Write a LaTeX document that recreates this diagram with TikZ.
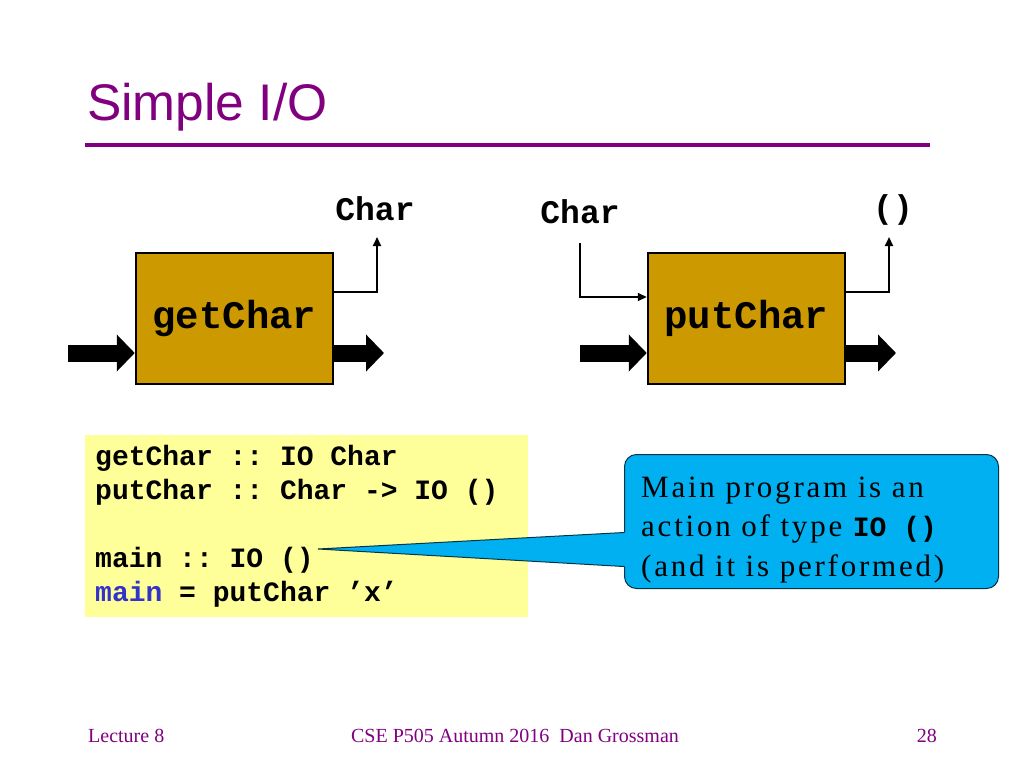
\documentclass[tikz,border=0pt]{standalone}
\usepackage{fontspec}
\setmainfont{Liberation Serif}
\setsansfont{Liberation Sans}
\setmonofont{Liberation Mono}
\newfontfamily\calloutfont{Liberation Serif}[LetterSpace=9, Ligatures=NoCommon]
\usetikzlibrary{arrows.meta, positioning, calc}

\definecolor{slidepurple}{RGB}{128, 0, 128}
\definecolor{boxgold}{RGB}{204, 153, 0}
\definecolor{codeyellow}{RGB}{255, 255, 153}
\definecolor{calloutcyan}{RGB}{0, 176, 240}
\definecolor{kwblue}{RGB}{51, 51, 204}

\DeclareRobustCommand{\codefont}[2]{\fontsize{#1}{#2}\selectfont\ttfamily\bfseries\frenchspacing\spaceskip=0.6em\xspaceskip=0.6em\relax}

\tikzset{
  actionbox/.style={draw=black, line width=2.5pt, fill=boxgold, minimum width=197pt, minimum height=131pt,
    inner sep=0pt, font=\codefont{39}{39}},
  typelabel/.style={inner sep=0pt, font=\codefont{33}{33}},
  worldarrow/.style={line width=17pt, -{Triangle[length=18pt, width=36pt]}},
  valuearrow/.style={line width=2pt, -{Triangle[length=9pt, width=8pt]}},
  footer/.style={text=slidepurple, inner sep=0pt, font=\fontsize{20}{20}\selectfont\rmfamily}
}

\begin{document}
\begin{tikzpicture}[x=1pt, y=-1pt]
  \useasboundingbox (0,0) rectangle (1024,768);

  % title
  \node[anchor=base west, inner sep=0pt, text=slidepurple, font=\fontsize{51.5}{51.5}\selectfont\sffamily] (title) at (87,120) {Simple I/O};
  \draw[slidepurple, line width=4pt] (85,145) coordinate (ruleL) -- (930,145) coordinate (ruleR);

  % the two actions
  \node[actionbox] (get) at (234.5,318.5) {\raisebox{-3pt}{getChar}};
  \node[actionbox] (put) at (746.5,318.5) {\raisebox{-3pt}{putChar}};

  % world in / world out
  \coordinate (getIn) at (68,353);
  \coordinate (getOut) at (384,353);
  \coordinate (putIn) at (580,353);
  \coordinate (putOut) at (896,353);
  \draw[worldarrow] (getIn) -- (getIn -| get.west);
  \draw[worldarrow] (getOut -| get.east) -- (getOut);
  \draw[worldarrow] (putIn) -- (putIn -| put.west);
  \draw[worldarrow] (putOut -| put.east) -- (putOut);

  % result and argument values
  \node[typelabel, anchor=base] (getRes) at (375,220) {Char};
  \node[typelabel, anchor=base] (putArg) at (580,223) {Char};
  \node[typelabel, anchor=base] (putRes) at (893,218) {()};
  \draw[valuearrow] (get.east |- 0,292) -| ([yshift=-17pt]getRes.base -| 377,0);
  \draw[valuearrow] ([yshift=-20pt]putArg.base) |- (put.west |- 0,297);
  \draw[valuearrow] (put.east |- 0,292) -| ([yshift=-19pt]putRes.base -| 889,0);

  % code
  \node[fill=codeyellow, anchor=north west, minimum width=443pt, minimum height=182pt, text width=423pt,
    inner sep=10pt, align=left, font=\codefont{28}{34}] (code) at (85,435)
    {\codefont{28}{34}getChar :: IO Char\\
     putChar :: Char -> IO ()\\[34pt]
     main :: IO ()\\
     \textcolor{kwblue}{main} = putChar ’x’};

  % callout
  \coordinate (tip) at (318,549);
  \node[draw=black!70!calloutcyan, line width=1pt, fill=calloutcyan, rounded corners=12pt, anchor=north west,
    minimum width=374pt, minimum height=134pt] (note) at (624,454) {};
  \fill[calloutcyan] (tip) -- ($(note.west)+(3,11)$) -- ($(note.west)+(3,45)$) -- cycle;
  \draw[black!70!calloutcyan, line width=1pt] ($(note.west)+(0,11)$) -- (tip) -- ($(note.west)+(0,45)$);
  \node[anchor=base west, inner sep=0pt, align=left, font=\fontsize{31}{39.5}\selectfont\calloutfont] (notetext) at (641,576)
    {Main program is an\\
     action of type {\codefont{28}{28}IO ()}\\
     (and it is performed)};

  % footer
  \node[footer, anchor=base west] (lecture) at (88,742) {Lecture 8};
  \node[footer, anchor=base] (course) at (515,742) {CSE P505 Autumn 2016\ \ Dan Grossman};
  \node[footer, anchor=base east] (page) at (937,742) {28};
\end{tikzpicture}
\end{document}
